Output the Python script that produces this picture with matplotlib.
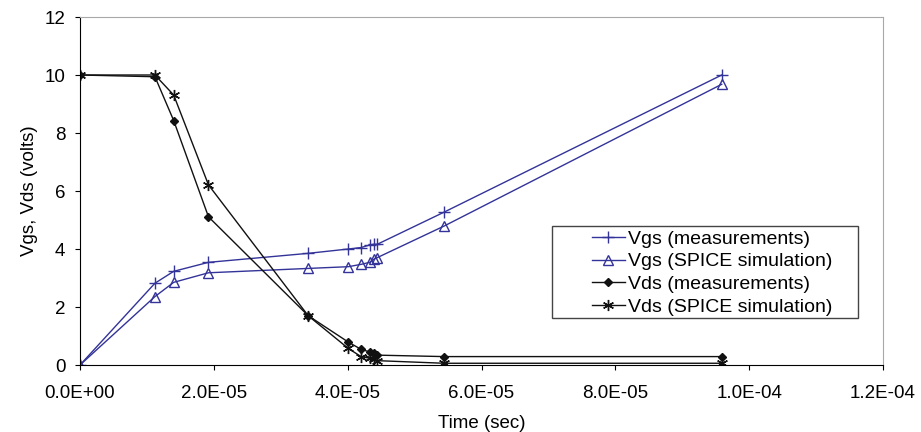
import numpy as np
import matplotlib.pyplot as plt
from matplotlib.patches import Rectangle

plt.rcParams['font.family'] = ['Liberation Sans', 'DejaVu Sans']

t = np.array([0, 1.12, 1.40, 1.92, 3.41, 4.01, 4.20, 4.33, 4.40, 4.44, 5.44, 9.59]) * 1e-5

vgs_meas = [0, 2.82, 3.23, 3.54, 3.85, 4.00, 4.05, 4.14, 4.16, 4.16, 5.27, 10.0]
vgs_sim = [0, 2.36, 2.85, 3.18, 3.33, 3.39, 3.47, 3.54, 3.66, 3.70, 4.79, 9.68]
vds_meas = [10.0, 9.94, 8.43, 5.11, 1.70, 0.79, 0.54, 0.45, 0.40, 0.34, 0.29, 0.29]
vds_sim = [10.0, 10.0, 9.31, 6.21, 1.70, 0.57, 0.29, 0.23, 0.20, 0.15, 0.06, 0.06]

labels = ['Vgs (measurements)', 'Vgs (SPICE simulation)',
          'Vds (measurements)', 'Vds (SPICE simulation)']

blue = '#333399'
fs = 13.5

fig = plt.figure(figsize=(9.21, 4.32), dpi=100)
ax = fig.add_axes([80/921, 1 - 365/432, (883-80)/921, (365-17)/432])

ax.plot(t, vgs_meas, color=blue, lw=1, marker='+', ms=8, mew=1, label=labels[0])
ax.plot(t, vgs_sim, color=blue, lw=1, marker='^', ms=7, mew=1, mfc='none', label=labels[1])
ax.plot(t, vds_meas, color='#111111', lw=1, marker='D', ms=4, label=labels[2])
ax.plot(t, vds_sim, color='#111111', lw=1, marker=(6, 2, 0), ms=8, mew=1, label=labels[3])

ax.set_xlim(0, 1.2e-4)
ax.set_ylim(0, 12)
ax.set_xticks(np.arange(0, 1.21e-4, 2e-5))
ax.set_xticklabels(['0.0E+00', '2.0E-05', '4.0E-05', '6.0E-05', '8.0E-05', '1.0E-04', '1.2E-04'])
ax.set_yticks(range(0, 13, 2))
ax.tick_params(direction='out', length=3.5, labelsize=fs)
ax.tick_params(axis='x', pad=11)
ax.tick_params(axis='y', pad=7)

for s in ['top', 'right']:
    ax.spines[s].set_color('#a8a8a8')

ax.set_xlabel('Time (sec)', fontsize=fs, labelpad=9)
ax.set_ylabel('Vgs, Vds (volts)', fontsize=fs, labelpad=5)

leg = ax.legend(loc='upper left', bbox_to_anchor=(588/921, 1 - 226/432),
                bbox_transform=fig.transFigure, frameon=False, fontsize=14,
                handlelength=1.7, handletextpad=0.15, labelspacing=0.27,
                borderpad=0.2, borderaxespad=0)
fig.add_artist(Rectangle((552/921, 1 - 318/432), (858-552)/921, (318-226)/432,
                         transform=fig.transFigure, fill=False, ec='#444444', lw=1))

fig.savefig('out.png', dpi=100)
